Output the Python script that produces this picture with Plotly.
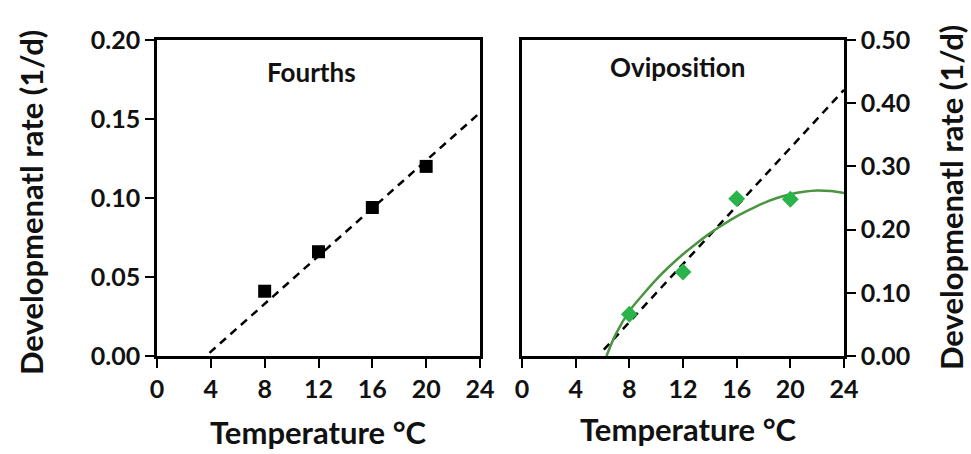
import plotly.graph_objects as go

# Fourths: observed development rates and fitted linear model
temp_obs = [8, 12, 16, 20]
fourths_rate = [0.041, 0.066, 0.094, 0.120]
fourths_line_x = [3.9, 24]
fourths_line_y = [0.002, 0.154]

# Oviposition: observed rates, linear model and nonlinear model curve
ovi_rate = [0.066, 0.133, 0.249, 0.248]
ovi_line_x = [6.1, 24]
ovi_line_y = [0.010, 0.421]
ovi_curve_x = [6.3, 7, 8, 9, 10, 11, 12, 13, 14, 15, 16, 17, 18, 19, 20, 21, 22, 23, 24]
ovi_curve_y = [0.0, 0.035, 0.071, 0.097, 0.121, 0.142, 0.161, 0.178, 0.194, 0.208,
               0.221, 0.232, 0.242, 0.250, 0.256, 0.260, 0.262, 0.261, 0.258]

x_ticks = [0, 4, 8, 12, 16, 20, 24]
y_ticks_left = [0.00, 0.05, 0.10, 0.15, 0.20]
y_ticks_right = [0.00, 0.10, 0.20, 0.30, 0.40, 0.50]

W, H = 971, 454
FONT = "Lato"
INK = "#111111"

fig = go.Figure()

fig.add_trace(go.Scatter(
    x=fourths_line_x, y=fourths_line_y, mode="lines",
    line=dict(color="black", width=2.5, dash="8px,6px"),
    xaxis="x", yaxis="y", showlegend=False))
fig.add_trace(go.Scatter(
    x=temp_obs, y=fourths_rate, mode="markers",
    marker=dict(symbol="square", size=13, color="black"),
    xaxis="x", yaxis="y", showlegend=False))

fig.add_trace(go.Scatter(
    x=ovi_line_x, y=ovi_line_y, mode="lines",
    line=dict(color="black", width=2.5, dash="8px,6px"),
    xaxis="x2", yaxis="y2", showlegend=False))
fig.add_trace(go.Scatter(
    x=ovi_curve_x, y=ovi_curve_y, mode="lines", line_shape="spline",
    line=dict(color="#4b9440", width=2.5),
    xaxis="x2", yaxis="y2", showlegend=False))
fig.add_trace(go.Scatter(
    x=temp_obs, y=ovi_rate, mode="markers",
    marker=dict(symbol="diamond", size=13, color="#2bb34b"),
    xaxis="x2", yaxis="y2", showlegend=False))

tick_font = dict(family=FONT, size=25, color=INK, weight="bold")
y_top = 1 - 40 / H
y_bot = 1 - 356 / H

common_x = dict(range=[0, 24], tickvals=x_ticks, ticks="outside", ticklen=9,
                tickwidth=2, tickcolor="black", showline=True, linewidth=2.5,
                linecolor="black", mirror=True, showgrid=False, zeroline=False,
                tickfont=tick_font, fixedrange=True, automargin=False)

fig.update_layout(
    width=W, height=H,
    margin=dict(l=0, r=0, t=0, b=0, pad=0),
    paper_bgcolor="white", plot_bgcolor="white",
    xaxis=dict(domain=[157 / W, 480 / W], anchor="y", **common_x),
    yaxis=dict(domain=[y_bot, y_top], range=[0, 0.20], tickvals=y_ticks_left,
               tickformat=".2f", ticks="outside", ticklen=9, tickwidth=2,
               tickcolor="black", showline=True, linewidth=2.5, linecolor="black",
               mirror=True, showgrid=False, zeroline=False, tickfont=tick_font,
               anchor="x", fixedrange=True, automargin=False),
    xaxis2=dict(domain=[522 / W, 844 / W], anchor="y2", **common_x),
    yaxis2=dict(domain=[y_bot, y_top], range=[0, 0.50], tickvals=y_ticks_right,
                tickformat=".2f", side="right", ticks="outside", ticklen=9,
                tickwidth=2, tickcolor="black", showline=True, linewidth=2.5,
                linecolor="black", mirror=True, showgrid=False, zeroline=False,
                tickfont=tick_font, anchor="x2", fixedrange=True, automargin=False),
)

xtitle_font = dict(family=FONT, size=31, color=INK, weight="bold")
ytitle_font = dict(family=FONT, size=31, color=INK, weight="bold")
panel_font = dict(family=FONT, size=26, color=INK, weight="bold")

annotations = [
    dict(text="Temperature °C", x=318 / W, y=1 - 432 / H, font=xtitle_font),
    dict(text="Temperature °C", x=688 / W, y=1 - 429 / H, font=xtitle_font),
    dict(text="Developmenatl rate (1/d)", x=31 / W, y=1 - 203 / H,
         textangle=-90, font=ytitle_font),
    dict(text="Developmenatl rate (1/d)", x=951 / W, y=1 - 198 / H,
         textangle=-90, font=ytitle_font),
    dict(text="Fourths", x=311 / W, y=1 - 72 / H, font=panel_font),
    dict(text="Oviposition", x=677 / W, y=1 - 67 / H, font=panel_font),
]
for a in annotations:
    a.update(xref="paper", yref="paper", showarrow=False, borderpad=0,
             xanchor="center", yanchor="middle")
fig.update_layout(annotations=annotations)

fig.write_html("out.html")
